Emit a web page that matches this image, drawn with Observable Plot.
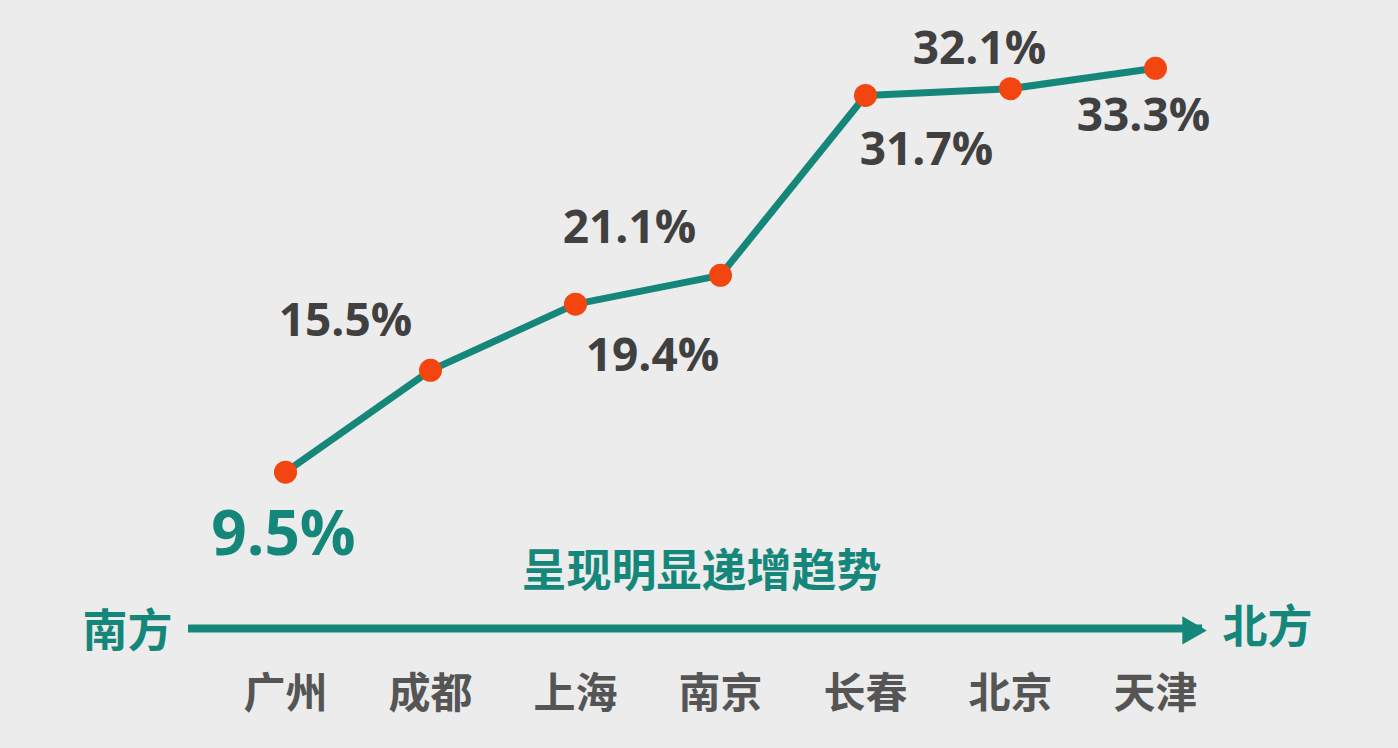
<!DOCTYPE html>
<html>
<head>
<meta charset="utf-8">
<script src="https://cdn.jsdelivr.net/npm/d3@7"></script>
<script src="https://cdn.jsdelivr.net/npm/@observablehq/plot@0.6"></script>
<style>
  html, body { margin: 0; padding: 0; background: #ececec; }
  #chart svg { display: block; background: #ececec; }
</style>
</head>
<body>
<div id="chart"></div>
<script>
// ---- data ----
const cities = ["广州", "成都", "上海", "南京", "长春", "北京", "天津"];
const values = [9.5, 15.5, 19.4, 21.1, 31.7, 32.1, 33.3];
const labels = ["9.5%", "15.5%", "19.4%", "21.1%", "31.7%", "32.1%", "33.3%"];
const trendText = "呈现明显递增趋势";
const leftText = "南方";
const rightText = "北方";

// ---- layout (label offsets from each point) ----
const labelDx = [-2, -85, 77, -91, 61, -31, -12];
const labelDy = [63, -49, 52, -47, 55, -39, 48];

const teal = "#15877a";
const red = "#f2450f";
const gray = "#404040";
const font = "'Open Sans', 'Noto Sans CJK SC', sans-serif";
const cjk = "'Noto Sans CJK SC', sans-serif";

const data = cities.map((c, i) => ({city: c, value: values[i], label: labels[i], i}));

const W = 1398, H = 748;
const y0 = 632.9, pxPer = 16.97;

const chart = Plot.plot({
  width: W,
  height: H,
  marginLeft: 188,
  marginRight: 196,
  marginTop: 0,
  marginBottom: H - 628,
  style: {background: "#ececec", overflow: "visible"},
  x: {type: "point", domain: cities, range: [285, 1155], padding: 0, axis: null},
  y: {domain: [0, 40], range: [y0, y0 - 40 * pxPer], axis: null},
  marks: [
    // direction arrow (south -> north)
    Plot.ruleY([0], {stroke: teal, strokeWidth: 8, dy: -5}),
    Plot.dot([0], {y: d => d, frameAnchor: "right", symbol: "triangle", rotate: 90, r: 10.5, fill: teal, stroke: "none", dx: -12, dy: -3}),
    Plot.text([leftText], {text: d => d, frameAnchor: "bottom-left", textAnchor: "end", dx: -16, dy: 4, fontSize: 45, fontWeight: "bold", fill: teal, fontFamily: cjk, lineAnchor: "middle"}),
    Plot.text([rightText], {text: d => d, frameAnchor: "bottom-right", textAnchor: "start", dx: 20, dy: 0, fontSize: 45, fontWeight: "bold", fill: teal, fontFamily: cjk, lineAnchor: "middle"}),
    Plot.text([trendText], {text: d => d, frameAnchor: "bottom", dx: 6, dy: -56, fontSize: 45, fontWeight: "bold", fill: teal, fontFamily: cjk, lineAnchor: "middle"}),
    // city labels on the x scale
    Plot.text(cities, {x: d => d, frameAnchor: "bottom", dy: 66, fontSize: 42, fontWeight: "bold", fill: "#555555", fontFamily: cjk, lineAnchor: "middle"}),
    // line + points
    Plot.line(data, {x: "city", y: "value", stroke: teal, strokeWidth: 7, strokeLinejoin: "round"}),
    Plot.dot(data, {x: "city", y: "value", r: 11.5, fill: red, stroke: "none"}),
    // value labels
    ...data.map(d => Plot.text([d], {
      x: "city", y: "value", text: "label",
      dx: labelDx[d.i], dy: labelDy[d.i],
      fontSize: d.i === 0 ? 62 : 46,
      fontWeight: "bold",
      fill: d.i === 0 ? teal : gray,
      fontFamily: font,
      lineAnchor: "middle"
    }))
  ]
});
document.getElementById("chart").appendChild(chart);
</script>
</body>
</html>
